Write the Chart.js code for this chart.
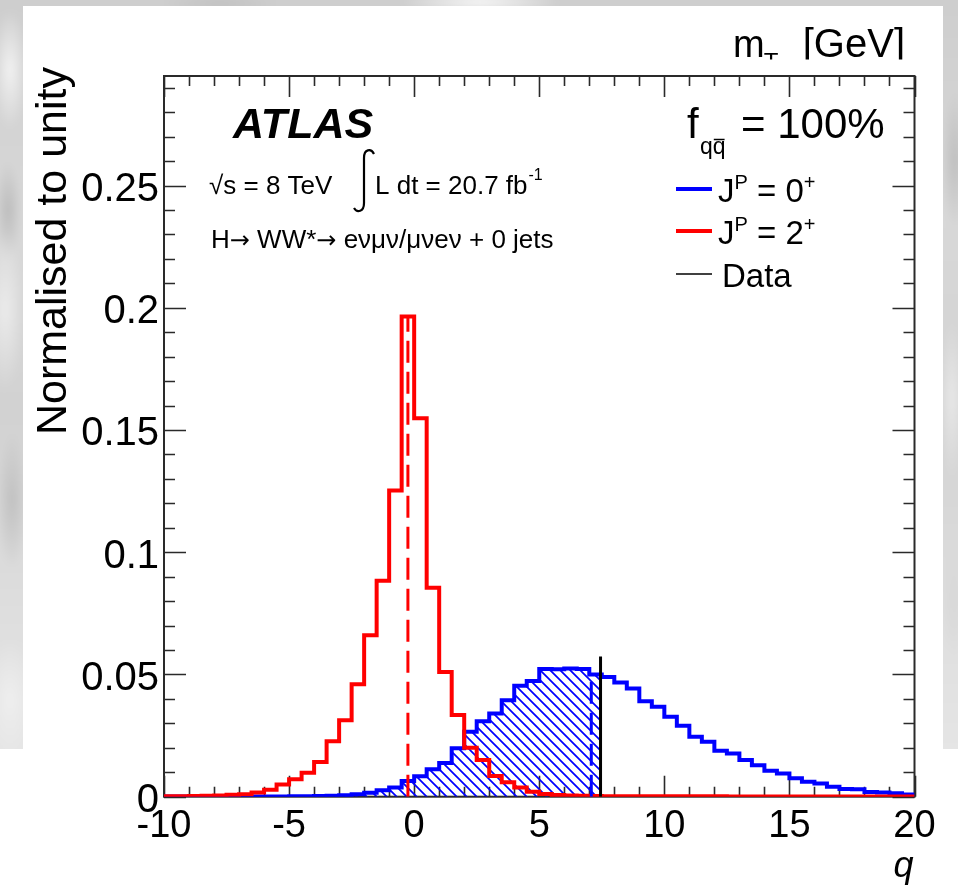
<!DOCTYPE html>
<html lang="en">
<head>
<meta charset="UTF-8">
<meta name="viewport" content="width=device-width, initial-scale=1.0">
<title>q distribution - J^P = 0+ vs 2+</title>
<script src="https://cdn.jsdelivr.net/npm/chart.js"></script>
<style>
    * {
        box-sizing: border-box;
        margin: 0;
        padding: 0;
    }

    html, body {
        width: 958px;
        height: 887px;
        overflow: hidden;
        background: #fff;
    }

    /* grey photo behind the figure */
    .backdrop {
        position: absolute;
        left: 0;
        top: 0;
        width: 958px;
        height: 749px;
        overflow: hidden;
    }

    .backdrop .tex {
        position: absolute;
        left: -20px;
        top: -20px;
        right: -20px;
        bottom: -20px;
        background:
            radial-gradient(ellipse 18px 60px at 30px 90px, rgba(250,250,250,.8), transparent),
            radial-gradient(ellipse 20px 80px at 25px 330px, rgba(245,245,245,.7), transparent),
            radial-gradient(ellipse 16px 70px at 32px 520px, rgba(190,190,190,.9), transparent),
            radial-gradient(ellipse 14px 50px at 28px 230px, rgba(185,185,185,.9), transparent),
            radial-gradient(ellipse 25px 60px at 30px 720px, rgba(240,240,240,.9), transparent),
            radial-gradient(ellipse 80px 14px at 500px 22px, rgba(252,252,252,.9), transparent),
            radial-gradient(ellipse 60px 14px at 240px 24px, rgba(190,190,190,.8), transparent),
            radial-gradient(ellipse 14px 70px at 975px 180px, rgba(185,185,185,.8), transparent),
            radial-gradient(ellipse 14px 80px at 972px 420px, rgba(235,235,235,.9), transparent),
            radial-gradient(ellipse 14px 60px at 974px 620px, rgba(215,215,215,.9), transparent),
            linear-gradient(180deg, #cdcdcd 0%, #d8d8d8 30%, #d2d2d2 55%, #dedede 80%, #e6e6e6 100%);
        filter: blur(3px);
    }

    .panel {
        position: absolute;
        left: 23px;
        top: 6px;
        width: 920px;
        height: 743px;
        background: #fff;
    }

    #grafico {
        position: absolute;
        left: 0;
        top: 0;
    }
</style>
</head>
<body>

<div class="backdrop"><div class="tex"></div></div>
<div class="panel"></div>
<canvas id="grafico" width="958" height="887"></canvas>

<script>
    // bin edges of q (60 bins, width 0.5)
    const binEdges = [
        -10, -9.5, -9, -8.5, -8, -7.5, -7, -6.5, -6, -5.5,
        -5, -4.5, -4, -3.5, -3, -2.5, -2, -1.5, -1, -0.5,
        0, 0.5, 1, 1.5, 2, 2.5, 3, 3.5, 4, 4.5,
        5, 5.5, 6, 6.5, 7, 7.5, 8, 8.5, 9, 9.5,
        10, 10.5, 11, 11.5, 12, 12.5, 13, 13.5, 14, 14.5,
        15, 15.5, 16, 16.5, 17, 17.5, 18, 18.5, 19, 19.5, 20
    ];

    // J^P = 0+ pseudo-experiments, normalised to unity
    const spin0 = [
        0.0001, 0.0001, 0.0001, 0.0001, 0.0001, 0.0001, 0.0001, 0.0001, 0.0001, 0.0001,
        0.0002, 0.0002, 0.0003, 0.0004, 0.0006, 0.0010, 0.0016, 0.0026, 0.0038, 0.0064,
        0.0084, 0.0112, 0.0138, 0.0198, 0.0266, 0.0309, 0.0340, 0.0395, 0.0454, 0.0473,
        0.0522, 0.0521, 0.0524, 0.0522, 0.0500, 0.0490, 0.0467, 0.0443, 0.0390, 0.0368,
        0.0327, 0.0290, 0.0245, 0.0225, 0.0188, 0.0177, 0.0150, 0.0129, 0.0106, 0.0095,
        0.0075, 0.0061, 0.0054, 0.0041, 0.0031, 0.0030, 0.0019, 0.0017, 0.0014, 0.0009
    ];

    // J^P = 2+ pseudo-experiments, normalised to unity
    const spin2 = [
        0.0002, 0.0002, 0.0003, 0.0004, 0.0005, 0.0008, 0.0010, 0.0017, 0.0028, 0.0050,
        0.0071, 0.0098, 0.0142, 0.0227, 0.0313, 0.0460, 0.0660, 0.0883, 0.1253, 0.1964,
        0.1548, 0.0855, 0.0510, 0.0334, 0.0200, 0.0150, 0.0085, 0.0059, 0.0038, 0.0020,
        0.0011, 0.0007, 0.0005, 0.0004, 0.0003, 0.0002, 0.0002, 0.0002, 0.0002, 0.0002,
        0.0002, 0.0002, 0.0002, 0.0002, 0.0002, 0.0001, 0.0001, 0.0001, 0.0001, 0.0001,
        0.0001, 0.0001, 0.0001, 0.0001, 0.0001, 0.0001, 0.0001, 0.0001, 0.0001, 0.0001
    ];

    // medians of the two hypotheses and the observed value
    const median2 = -0.25;
    const median2Height = 0.1964;
    const median0 = 7.08;
    const median0Height = 0.0500;
    const qObserved = 7.45;
    const qObservedHeight = 0.0573;

    const xTickLabels = [-10, -5, 0, 5, 10, 15, 20];
    const yTickLabels = ['0', '0.05', '0.1', '0.15', '0.2', '0.25'];

    const FONT = '"Liberation Sans", Arial, Helvetica, sans-serif';
    const ARROW_FONT = '"DejaVu Sans", sans-serif';
    const BLUE = '#0000ff';
    const RED = '#ff0000';

    // step-histogram points: one point per left bin edge, plus the closing edge
    function histPoints(values, upTo) {
        const pts = [];
        for (let i = 0; i < values.length; i++) {
            if (upTo !== undefined && binEdges[i] >= upTo) break;
            pts.push({ x: binEdges[i], y: values[i] });
        }
        const last = pts[pts.length - 1];
        const end = upTo !== undefined ? upTo : binEdges[values.length];
        pts.push({ x: end, y: last.y });
        return pts;
    }

    function hatch(color) {
        const c = document.createElement('canvas');
        c.width = 10;
        c.height = 10;
        const g = c.getContext('2d');
        g.strokeStyle = color;
        g.lineWidth = 1.7;
        g.beginPath();
        g.moveTo(-1, -1); g.lineTo(11, 11);
        g.moveTo(-1, 9); g.lineTo(1, 11);
        g.moveTo(9, -1); g.lineTo(11, 1);
        g.stroke();
        return g.createPattern(c, 'repeat');
    }

    function txt(ctx, s, x, y, size, opt) {
        opt = opt || {};
        ctx.font = (opt.style || '') + ' ' + size + 'px ' + (opt.family || FONT);
        ctx.textAlign = opt.align || 'left';
        ctx.textBaseline = 'alphabetic';
        ctx.fillStyle = opt.color || '#000';
        ctx.fillText(s, x, y);
        return ctx.measureText(s).width;
    }

    // frame with inward ticks on all four sides
    const frame = {
        id: 'frame',
        beforeDatasetsDraw(chart) {
            const { ctx, chartArea: a, scales: { x, y } } = chart;
            ctx.save();
            ctx.strokeStyle = '#2a2a2a';
            ctx.lineWidth = 1.6;
            ctx.beginPath();
            for (let i = 0; i <= 30; i++) {
                const px = Math.round(x.getPixelForValue(-10 + i)) + 0.5;
                const len = i % 5 === 0 ? 21 : 10;
                ctx.moveTo(px, a.bottom); ctx.lineTo(px, a.bottom - len);
                ctx.moveTo(px, a.top); ctx.lineTo(px, a.top + len);
            }
            for (let i = 0; i <= 29; i++) {
                const py = Math.round(y.getPixelForValue(i / 100)) + 0.5;
                const len = i % 5 === 0 ? 22 : 11;
                ctx.moveTo(a.left, py); ctx.lineTo(a.left + len, py);
                ctx.moveTo(a.right, py); ctx.lineTo(a.right - len, py);
            }
            ctx.stroke();
            ctx.lineWidth = 2;
            ctx.strokeRect(a.left, a.top, a.right - a.left, a.bottom - a.top);
            ctx.restore();
        }
    };

    // axis labels, titles, ATLAS label and legend
    const labels = {
        id: 'labels',
        afterDraw(chart) {
            const { ctx, chartArea: a, scales: { x, y } } = chart;
            ctx.save();

            xTickLabels.forEach(v => {
                txt(ctx, String(v), x.getPixelForValue(v), 837, 38, { align: 'center' });
            });
            yTickLabels.forEach(s => {
                txt(ctx, s, 159, y.getPixelForValue(parseFloat(s)) + 15.5, 40, { align: 'right' });
            });

            // axis titles
            txt(ctx, 'q', a.right - 1, 877, 36, { align: 'right', style: 'italic' });
            ctx.save();
            ctx.translate(66, 67);
            ctx.rotate(-Math.PI / 2);
            txt(ctx, 'Normalised to unity', 0, 0, 43, { align: 'right' });
            ctx.restore();

            // leftover m_T title, cut at the top of the frame
            ctx.save();
            ctx.beginPath();
            ctx.rect(0, 0, 958, 59.5);
            ctx.clip();
            let cx = 733;
            cx += txt(ctx, 'm', cx, 57, 38);
            txt(ctx, 'T', cx - 1, 70, 24);
            txt(ctx, '[GeV]', 905, 57, 40, { align: 'right' });
            ctx.restore();

            // ATLAS block
            txt(ctx, 'ATLAS', 233, 138, 43, { style: 'italic bold' });
            txt(ctx, '\u221As = 8 TeV', 209, 194, 26);
            ctx.strokeStyle = '#000';
            ctx.lineWidth = 2.2;
            ctx.beginPath();
            ctx.moveTo(374, 154);
            ctx.bezierCurveTo(371, 148, 364, 149, 364, 158);
            ctx.lineTo(364, 203);
            ctx.bezierCurveTo(364, 212, 357, 213, 354, 208);
            ctx.stroke();
            cx = 375;
            cx += txt(ctx, 'L dt = 20.7 fb', cx, 194, 26);
            txt(ctx, '-1', cx + 1, 180, 16);

            // decay channel, arrows taken from DejaVu
            cx = 211;
            cx += txt(ctx, 'H', cx, 248, 26);
            cx += txt(ctx, '\u2192', cx, 248, 24, { family: ARROW_FONT });
            cx += txt(ctx, ' WW*', cx, 248, 26);
            cx += txt(ctx, '\u2192', cx, 248, 24, { family: ARROW_FONT });
            txt(ctx, ' e\u03BD\u03BC\u03BD/\u03BC\u03BDe\u03BD + 0 jets', cx, 248, 26);

            // f_qqbar = 100%
            txt(ctx, 'f', 687, 138, 42);
            const qw = txt(ctx, 'q', 700, 153.5, 23);
            const qw2 = txt(ctx, 'q', 700 + qw, 153.5, 23);
            ctx.lineWidth = 1.5;
            ctx.beginPath();
            ctx.moveTo(700 + qw + 1, 139.5);
            ctx.lineTo(700 + qw + qw2 - 1, 139.5);
            ctx.stroke();
            txt(ctx, '= 100%', 741, 138, 42);

            // legend
            const rows = [
                { y: 189, color: BLUE, w: 4, main: 'J', sup: 'P', rest: ' = 0', sup2: '+' },
                { y: 231, color: RED, w: 4, main: 'J', sup: 'P', rest: ' = 2', sup2: '+' },
                { y: 274, color: '#000', w: 1.5, main: 'Data' }
            ];
            rows.forEach(r => {
                ctx.strokeStyle = r.color;
                ctx.lineWidth = r.w;
                ctx.beginPath();
                ctx.moveTo(676, r.y);
                ctx.lineTo(712, r.y);
                ctx.stroke();
                const base = r.y + 13;
                let lx = r.sup ? 718 : 722;
                lx += txt(ctx, r.main, lx, base, 33);
                if (r.sup) {
                    lx += txt(ctx, r.sup, lx, base - 13, 20);
                    lx += txt(ctx, r.rest, lx, base, 33);
                    txt(ctx, r.sup2, lx, base - 13, 20);
                }
            });

            ctx.restore();
        }
    };

    const ctx = document.getElementById('grafico').getContext('2d');

    new Chart(ctx, {
        type: 'line',
        data: {
            datasets: [
                {
                    label: 'data',
                    data: [{ x: qObserved, y: 0 }, { x: qObserved, y: qObservedHeight }],
                    borderColor: '#000',
                    borderWidth: 3,
                    order: 1
                },
                {
                    label: 'median 0+',
                    data: [{ x: median0, y: 0 }, { x: median0, y: median0Height }],
                    borderColor: BLUE,
                    borderWidth: 3,
                    borderDash: [22, 9],
                    order: 2
                },
                {
                    label: 'median 2+',
                    data: [{ x: median2, y: 0 }, { x: median2, y: median2Height }],
                    borderColor: RED,
                    borderWidth: 3,
                    borderDash: [22, 9],
                    order: 3
                },
                {
                    label: 'J^P = 2+',
                    data: histPoints(spin2),
                    borderColor: RED,
                    borderWidth: 4,
                    stepped: true,
                    order: 4
                },
                {
                    label: 'J^P = 0+',
                    data: histPoints(spin0),
                    borderColor: BLUE,
                    borderWidth: 4,
                    stepped: true,
                    order: 5
                },
                {
                    label: 'tail 0+',
                    data: histPoints(spin0, qObserved),
                    borderColor: 'transparent',
                    borderWidth: 0,
                    backgroundColor: hatch(BLUE),
                    fill: 'origin',
                    stepped: true,
                    order: 6
                }
            ]
        },
        options: {
            responsive: false,
            animation: false,
            elements: {
                point: { radius: 0, hoverRadius: 0 },
                line: { tension: 0, borderCapStyle: 'butt', borderJoinStyle: 'miter' }
            },
            layout: {
                padding: { left: 164, right: 43.5, top: 76, bottom: 90.3 }
            },
            scales: {
                x: { type: 'linear', min: -10, max: 20, display: false },
                y: { type: 'linear', min: 0, max: 0.2948, display: false }
            },
            plugins: {
                legend: { display: false },
                tooltip: { enabled: false }
            }
        },
        plugins: [frame, labels]
    });
</script>

</body>
</html>
